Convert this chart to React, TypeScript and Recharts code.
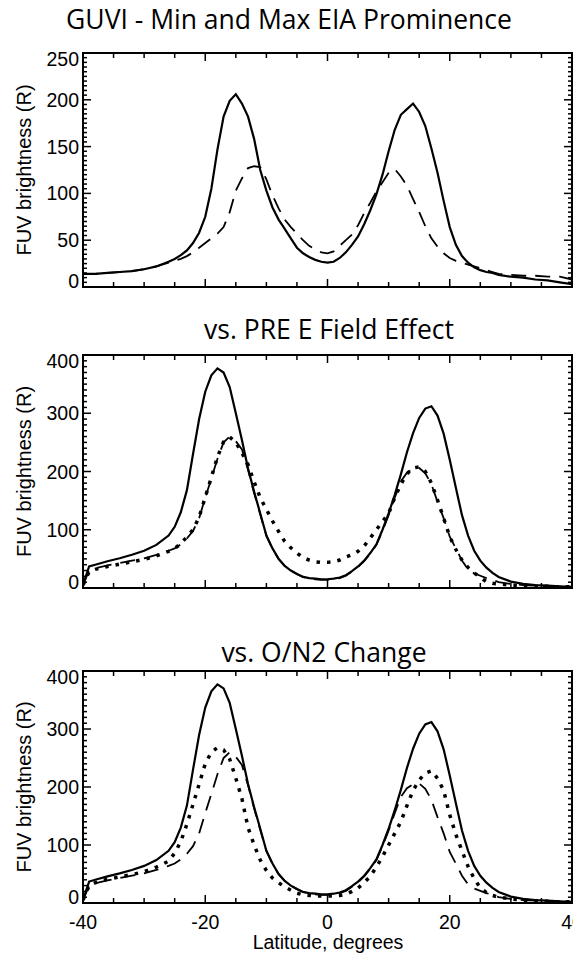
import React from "react";
import { Line, LineChart, ReferenceArea, XAxis, YAxis } from "recharts";

// shared latitude grid (degrees)
const LAT = [
  -40, -39, -38, -36, -34, -32, -30, -28, -26, -25, -24, -23, -22, -21, -20,
  -19, -18, -17, -16, -15, -14, -13, -12, -11, -10, -9, -8, -7, -6, -5, -4, -3,
  -2, -1, 0, 1, 2, 3, 4, 5, 6, 7, 8, 9, 10, 11, 12, 13, 14, 15, 16, 17, 18, 19,
  20, 21, 22, 23, 24, 25, 26, 27, 28, 30, 32, 34, 36, 38, 40,
];

// panel 1: GUVI max / min EIA prominence
const GUVI_MAX = [
  14, 14, 14, 15, 16, 17, 19, 22, 27, 30, 34, 39, 47, 58, 75, 105, 147, 182,
  199, 206, 196, 182, 158, 125, 103, 85, 72, 62, 52, 42, 36, 32, 29, 27, 26, 27,
  31, 37, 45, 54, 67, 82, 99, 120, 145, 168, 184, 190, 196, 187, 172, 148, 122,
  92, 64, 45, 33, 26, 21, 18, 16, 15, 13, 11, 10, 8, 7, 5, 3,
];
const GUVI_MIN = [
  14, 14, 14, 15, 16, 17, 19, 22, 26, 28, 30, 33, 37, 42, 47, 52, 57, 64, 80,
  103, 116, 127, 129, 128, 115, 98, 84, 72, 64, 57, 50, 44, 40, 37, 36, 38, 44,
  50, 56, 66, 79, 90, 102, 112, 122, 126, 118, 108, 94, 80, 65, 52, 43, 36, 31,
  28, 26, 24, 22, 20, 18, 16, 14, 13, 12, 12, 11, 11, 8,
];

// panels 2 and 3: observed max (solid) and min (dashed)
const OBS_MAX = [
  5, 37, 40, 46, 51, 57, 64, 74, 90, 105, 130, 168, 230, 290, 337, 365, 377,
  370, 345, 300, 254, 205, 165, 128, 90, 68, 50, 38, 30, 24, 19, 17, 16, 15, 15,
  16, 18, 22, 29, 37, 47, 60, 75, 100, 128, 160, 195, 233, 266, 292, 308, 312,
  296, 265, 220, 172, 125, 90, 64, 47, 35, 26, 19, 11, 7, 5, 4, 3, 2,
];
const OBS_MIN = [
  5, 30, 34, 39, 43, 47, 51, 57, 64, 68, 75, 85, 98, 120, 155, 188, 222, 250,
  260, 252, 238, 203, 163, 126, 90, 67, 50, 38, 30, 24, 19, 17, 15, 14, 14, 15,
  17, 21, 28, 36, 46, 59, 74, 98, 125, 155, 183, 198, 205, 206, 197, 178, 148,
  120, 88, 68, 47, 32, 25, 21, 17, 14, 10, 7, 5, 4, 3, 3, 2,
];

// panel 2 dotted: PRE E field effect
const PRE_EFFECT = [
  5, 28, 32, 37, 41, 45, 49, 55, 63, 68, 76, 88, 100, 122, 156, 190, 225, 251,
  259, 250, 232, 212, 182, 155, 135, 115, 97, 80, 69, 60, 52, 48, 45, 44, 44,
  45, 48, 53, 57, 63, 72, 86, 100, 114, 128, 155, 178, 196, 206, 208, 200, 180,
  151, 120, 88, 66, 48, 35, 26, 18, 11, 8, 7, 5, 4, 3, 3, 2, 2,
];

// panel 3 dotted: O/N2 change
const ON2_CHANGE = [
  5, 30, 35, 41, 45, 49, 54, 62, 72, 86, 106, 136, 170, 205, 240, 260, 268, 264,
  248, 215, 180, 130, 100, 74, 56, 43, 35, 28, 22, 17, 14, 13, 12, 12, 12, 12,
  13, 15, 20, 26, 35, 46, 62, 80, 100, 120, 140, 168, 194, 212, 224, 228, 215,
  194, 152, 118, 90, 63, 42, 26, 18, 13, 10, 7, 5, 4, 3, 2, 2,
];

const X_TICKS = [-40, -35, -30, -25, -20, -15, -10, -5, 0, 5, 10, 15, 20, 25, 30, 35, 40];
const TITLES = ["GUVI - Min and Max EIA Prominence", "vs. PRE E Field Effect", "vs. O/N2 Change"];
const Y_LABEL = "FUV brightness (R)";
const X_LABEL = "Latitude, degrees";

const W = 573;
const PLOT_LEFT = 83;
const PLOT_RIGHT = 572;
const TICK_FONT = "'Liberation Sans', Arial, Helvetica, sans-serif";
const TITLE_FONT = "'Open Sans', 'Noto Sans', sans-serif";

const rows = (vals: number[]) => LAT.map((lat, i) => ({ lat, v: vals[i] }));

function range(max: number, step: number) {
  const out: number[] = [];
  for (let v = 0; v <= max + 1e-6; v += step) out.push(v);
  return out;
}

type SeriesDef = { data: number[]; style: "solid" | "dash" | "dot" };

type PanelDef = {
  top: number;
  height: number;
  plotTop: number;
  plotBottom: number;
  yMax: number;
  major: number;
  minor: number;
  showX: boolean;
  series: SeriesDef[];
};

const PANELS: PanelDef[] = [
  {
    top: 0, height: 300, plotTop: 53, plotBottom: 287, yMax: 250, major: 50, minor: 5, showX: false,
    series: [
      { data: GUVI_MAX, style: "solid" },
      { data: GUVI_MIN, style: "dash" },
    ],
  },
  {
    top: 300, height: 300, plotTop: 55, plotBottom: 288, yMax: 400, major: 100, minor: 10, showX: false,
    series: [
      { data: OBS_MAX, style: "solid" },
      { data: OBS_MIN, style: "dash" },
      { data: PRE_EFFECT, style: "dot" },
    ],
  },
  {
    top: 600, height: 355, plotTop: 71, plotBottom: 303, yMax: 400, major: 100, minor: 10, showX: true,
    series: [
      { data: OBS_MAX, style: "solid" },
      { data: OBS_MIN, style: "dash" },
      { data: ON2_CHANGE, style: "dot" },
    ],
  },
];

function xTick(top: number, bottom: number, showLabels: boolean) {
  return (props: any) => {
    const { x, payload } = props;
    const v = payload.value as number;
    const major = v % 20 === 0;
    const len = major ? 8 : 5;
    const edge = v === -40 || v === 40;
    return (
      <g>
        {!edge && (
          <>
            <line x1={x} x2={x} y1={bottom} y2={bottom - len} stroke="#000" strokeWidth={1.5} />
            <line x1={x} x2={x} y1={top} y2={top + len} stroke="#000" strokeWidth={1.5} />
          </>
        )}
        {showLabels && major && (
          <text x={x} y={bottom + 26} textAnchor="middle" fontFamily={TICK_FONT} fontSize={19.5} fill="#000">
            {v}
          </text>
        )}
      </g>
    );
  };
}

function yTick(yMax: number, major: number) {
  return (props: any) => {
    const { y, payload } = props;
    const v = payload.value as number;
    const isMajor = v % major === 0;
    const len = isMajor ? 8 : 4;
    const edge = v === 0 || v === yMax;
    let ly = y;
    if (v === yMax) ly = y + 6;
    if (v === 0) ly = y - 6;
    return (
      <g>
        {!edge && (
          <>
            <line x1={PLOT_LEFT} x2={PLOT_LEFT + len} y1={y} y2={y} stroke="#000" strokeWidth={1.5} />
            <line x1={PLOT_RIGHT} x2={PLOT_RIGHT - len} y1={y} y2={y} stroke="#000" strokeWidth={1.5} />
          </>
        )}
        {isMajor && (
          <text x={79} y={ly} dy="0.36em" textAnchor="end" fontFamily={TICK_FONT} fontSize={19.5} fill="#000">
            {v}
          </text>
        )}
      </g>
    );
  };
}

function seriesProps(style: SeriesDef["style"]) {
  if (style === "dash") return { strokeWidth: 1.8, strokeDasharray: "15 9" };
  if (style === "dot") return { strokeWidth: 3.5, strokeDasharray: "3.5 7" };
  return { strokeWidth: 2.2 };
}

function Panel({ p }: { p: PanelDef }) {
  return (
    <div style={{ position: "absolute", left: 0, top: p.top, width: W, height: p.height }}>
      <LineChart
        width={W}
        height={p.height}
        margin={{ top: p.plotTop, right: W - PLOT_RIGHT, bottom: 0, left: 0 }}
      >
        <XAxis
          type="number"
          dataKey="lat"
          domain={[-40, 40]}
          ticks={X_TICKS}
          interval={0}
          height={p.height - p.plotBottom}
          axisLine={false}
          tickLine={false}
          tick={xTick(p.plotTop, p.plotBottom, p.showX)}
          allowDataOverflow
        />
        <YAxis
          type="number"
          domain={[0, p.yMax]}
          ticks={range(p.yMax, p.minor)}
          interval={0}
          width={PLOT_LEFT}
          axisLine={false}
          tickLine={false}
          tick={yTick(p.yMax, p.major)}
          allowDataOverflow
        />
        <ReferenceArea
          x1={-40}
          x2={40}
          y1={0}
          y2={p.yMax}
          fill="none"
          fillOpacity={0}
          stroke="#000"
          strokeWidth={2}
          ifOverflow="visible"
        />
        {p.series.map((s, i) => (
          <Line
            key={i}
            data={rows(s.data)}
            dataKey="v"
            type="linear"
            stroke="#000"
            dot={false}
            activeDot={false}
            isAnimationActive={false}
            {...seriesProps(s.style)}
          />
        ))}
      </LineChart>
    </div>
  );
}

export default function App() {
  const titleY = [29, 339, 662];
  const titleX = [289, 329, 324];
  return (
    <div style={{ position: "absolute", left: 0, top: 0, width: W, height: 955, background: "#fff" }}>
      {PANELS.map((p, i) => (
        <Panel key={i} p={p} />
      ))}
      <svg
        width={W}
        height={955}
        style={{ position: "absolute", left: 0, top: 0, pointerEvents: "none" }}
      >
        {TITLES.map((t, i) => (
          <text key={t} x={titleX[i]} y={titleY[i]} textAnchor="middle" fontFamily={TITLE_FONT} fontSize={26.5} fill="#000">
            {t}
          </text>
        ))}
        {PANELS.map((p, i) => {
          const cy = p.top + (p.plotTop + p.plotBottom) / 2;
          return (
            <text
              key={i}
              x={31}
              y={cy}
              transform={`rotate(-90 31 ${cy})`}
              textAnchor="middle"
              fontFamily={TICK_FONT}
              fontSize={20}
              fill="#000"
            >
              {Y_LABEL}
            </text>
          );
        })}
        <text x={328} y={949} textAnchor="middle" fontFamily={TICK_FONT} fontSize={19.5} fill="#000">
          {X_LABEL}
        </text>
      </svg>
    </div>
  );
}
